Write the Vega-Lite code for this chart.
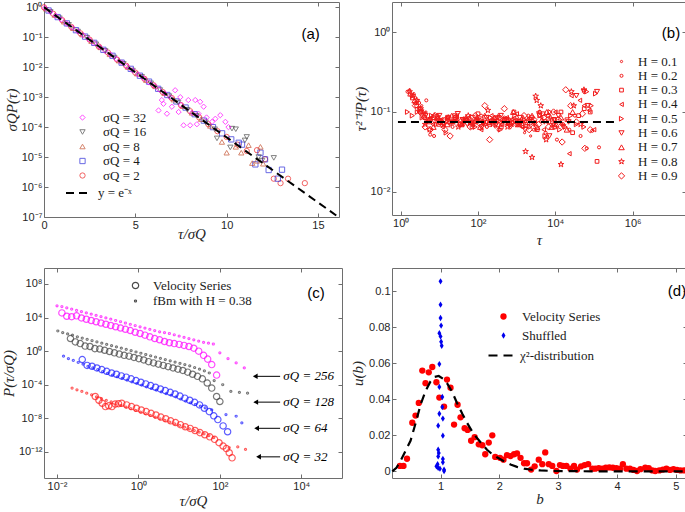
{
"$schema": "https://vega.github.io/schema/vega-lite/v6.json",
"background": "white",
"padding": {"left": 0, "top": 0, "right": 2, "bottom": 2},
"config": {
 "view": {"stroke": "#6e6e6e", "strokeWidth": 1},
 "axis": {"domain": false, "grid": false, "tickColor": "#6e6e6e", "tickSize": -4, "labelPadding": 6, "labelFlush": false, "labelOverlap": false, "labelFont": "Liberation Sans", "labelFontSize": 11, "labelColor": "#262626", "titleFont": "Liberation Serif", "titleFontStyle": "italic", "titleFontWeight": "normal", "titleFontSize": 15, "titleColor": "#262626"},
 "legend": {"orient": "none", "padding": 0, "labelFont": "Liberation Serif", "labelFontSize": 13, "labelColor": "#1a1a1a"}
},
"columns": 2,
"spacing": {"row": 51, "column": 50},
"bounds": "flush",
"resolve": {"scale": {"color": "independent", "shape": "independent", "size": "independent", "fill": "independent", "strokeDash": "independent"}, "legend": {"color": "independent", "shape": "independent", "size": "independent", "fill": "independent", "strokeDash": "independent"}},
"concat": [
 {"width": 295, "height": 215,
  "resolve": {"axis": {"x": "independent", "y": "independent"}},
  "layer": [
   {"data": {"values": [
{"s":"σQ = 2","x":0,"y":1.0},{"s":"σQ = 2","x":0.5,"y":0.61},{"s":"σQ = 2","x":1.0,"y":0.37},{"s":"σQ = 2","x":1.5,"y":0.22},{"s":"σQ = 2","x":2.0,"y":0.135},{"s":"σQ = 2","x":2.5,"y":0.083},{"s":"σQ = 2","x":3.0,"y":0.049},{"s":"σQ = 2","x":3.5,"y":0.031},{"s":"σQ = 2","x":4.0,"y":0.018},{"s":"σQ = 2","x":4.5,"y":0.0112},{"s":"σQ = 2","x":5.0,"y":0.0066},{"s":"σQ = 2","x":5.5,"y":0.0041},{"s":"σQ = 2","x":6.0,"y":0.0025},{"s":"σQ = 2","x":6.5,"y":0.00148},{"s":"σQ = 2","x":7.0,"y":0.00093},{"s":"σQ = 2","x":7.5,"y":0.00054},{"s":"σQ = 2","x":8.0,"y":0.00034},{"s":"σQ = 2","x":8.5,"y":0.00021},{"s":"σQ = 2","x":9.0,"y":0.000125},{"s":"σQ = 2","x":9.5,"y":0.000073},{"s":"σQ = 2","x":10.0,"y":0.000047},{"s":"σQ = 2","x":10.6,"y":0.000026},{"s":"σQ = 2","x":11.1,"y":0.000016},{"s":"σQ = 2","x":11.66,"y":0.000017},{"s":"σQ = 2","x":12.1,"y":0.0000085},{"s":"σQ = 2","x":12.58,"y":0.0000019},{"s":"σQ = 2","x":12.95,"y":0.00000135},{"s":"σQ = 2","x":13.36,"y":0.0000019},{"s":"σQ = 2","x":14.28,"y":0.00000135},
{"s":"σQ = 4","x":0.25,"y":0.78},{"s":"σQ = 4","x":0.75,"y":0.47},{"s":"σQ = 4","x":1.25,"y":0.29},{"s":"σQ = 4","x":1.75,"y":0.172},{"s":"σQ = 4","x":2.25,"y":0.105},{"s":"σQ = 4","x":2.75,"y":0.065},{"s":"σQ = 4","x":3.25,"y":0.038},{"s":"σQ = 4","x":3.75,"y":0.024},{"s":"σQ = 4","x":4.25,"y":0.0142},{"s":"σQ = 4","x":4.75,"y":0.0088},{"s":"σQ = 4","x":5.25,"y":0.0052},{"s":"σQ = 4","x":5.75,"y":0.0033},{"s":"σQ = 4","x":6.25,"y":0.0019},{"s":"σQ = 4","x":6.75,"y":0.00118},{"s":"σQ = 4","x":7.25,"y":0.00072},{"s":"σQ = 4","x":7.75,"y":0.00045},{"s":"σQ = 4","x":8.25,"y":0.00027},{"s":"σQ = 4","x":8.75,"y":0.000165},{"s":"σQ = 4","x":9.25,"y":0.0001},{"s":"σQ = 4","x":9.75,"y":0.000062},{"s":"σQ = 4","x":10.25,"y":0.000039},{"s":"σQ = 4","x":10.66,"y":0.00003},{"s":"σQ = 4","x":10.84,"y":0.000026},{"s":"σQ = 4","x":11.57,"y":0.0000057},{"s":"σQ = 4","x":11.85,"y":0.000014},{"s":"σQ = 4","x":12.1,"y":0.0000084},{"s":"σQ = 4","x":12.3,"y":0.0000037},{"s":"σQ = 4","x":12.8,"y":0.0000019},{"s":"σQ = 4","x":13.03,"y":0.0000038},
{"s":"σQ = 8","x":0.1,"y":0.9},{"s":"σQ = 8","x":0.6,"y":0.55},{"s":"σQ = 8","x":1.1,"y":0.33},{"s":"σQ = 8","x":1.6,"y":0.2},{"s":"σQ = 8","x":2.1,"y":0.123},{"s":"σQ = 8","x":2.6,"y":0.074},{"s":"σQ = 8","x":3.1,"y":0.046},{"s":"σQ = 8","x":3.6,"y":0.027},{"s":"σQ = 8","x":4.1,"y":0.0166},{"s":"σQ = 8","x":4.6,"y":0.0101},{"s":"σQ = 8","x":5.1,"y":0.0061},{"s":"σQ = 8","x":5.6,"y":0.0037},{"s":"σQ = 8","x":6.1,"y":0.0023},{"s":"σQ = 8","x":6.6,"y":0.00135},{"s":"σQ = 8","x":7.1,"y":0.00083},{"s":"σQ = 8","x":7.6,"y":0.0005},{"s":"σQ = 8","x":8.1,"y":0.0003},{"s":"σQ = 8","x":8.6,"y":0.000185},{"s":"σQ = 8","x":9.1,"y":0.00011},{"s":"σQ = 8","x":9.74,"y":0.000032},{"s":"σQ = 8","x":10.0,"y":0.000014},{"s":"σQ = 8","x":10.5,"y":0.000022},{"s":"σQ = 8","x":10.8,"y":0.000014},{"s":"σQ = 8","x":11.2,"y":0.000025},{"s":"σQ = 8","x":11.4,"y":0.0000063},{"s":"σQ = 8","x":11.66,"y":0.0000075},{"s":"σQ = 8","x":11.85,"y":0.000022},{"s":"σQ = 8","x":12.0,"y":0.000006},
{"s":"σQ = 16","x":0.35,"y":0.7},{"s":"σQ = 16","x":0.85,"y":0.43},{"s":"σQ = 16","x":1.35,"y":0.26},{"s":"σQ = 16","x":1.85,"y":0.155},{"s":"σQ = 16","x":2.35,"y":0.096},{"s":"σQ = 16","x":2.85,"y":0.058},{"s":"σQ = 16","x":3.35,"y":0.035},{"s":"σQ = 16","x":3.85,"y":0.021},{"s":"σQ = 16","x":4.35,"y":0.013},{"s":"σQ = 16","x":4.85,"y":0.0077},{"s":"σQ = 16","x":5.35,"y":0.0048},{"s":"σQ = 16","x":5.85,"y":0.0029},{"s":"σQ = 16","x":6.35,"y":0.00172},{"s":"σQ = 16","x":6.85,"y":0.00108},{"s":"σQ = 16","x":7.35,"y":0.00066},{"s":"σQ = 16","x":7.85,"y":0.00038},{"s":"σQ = 16","x":8.35,"y":0.00024},{"s":"σQ = 16","x":8.85,"y":0.000145},{"s":"σQ = 16","x":9.35,"y":0.000085},{"s":"σQ = 16","x":9.47,"y":0.000042},{"s":"σQ = 16","x":10.2,"y":0.000021},{"s":"σQ = 16","x":10.29,"y":0.000089},{"s":"σQ = 16","x":10.5,"y":0.000085},{"s":"σQ = 16","x":11.0,"y":0.000036},{"s":"σQ = 16","x":11.1,"y":0.000047},{"s":"σQ = 16","x":11.75,"y":0.00001},{"s":"σQ = 16","x":11.94,"y":0.0000076},{"s":"σQ = 16","x":12.58,"y":0.0000094},
{"s":"σQ = 32","x":0.05,"y":0.95},{"s":"σQ = 32","x":0.35,"y":0.7},{"s":"σQ = 32","x":0.65,"y":0.52},{"s":"σQ = 32","x":0.95,"y":0.39},{"s":"σQ = 32","x":1.25,"y":0.285},{"s":"σQ = 32","x":1.55,"y":0.21},{"s":"σQ = 32","x":1.85,"y":0.157},{"s":"σQ = 32","x":2.15,"y":0.117},{"s":"σQ = 32","x":2.45,"y":0.086},{"s":"σQ = 32","x":2.75,"y":0.064},{"s":"σQ = 32","x":3.05,"y":0.047},{"s":"σQ = 32","x":3.35,"y":0.035},{"s":"σQ = 32","x":3.65,"y":0.026},{"s":"σQ = 32","x":3.95,"y":0.019},{"s":"σQ = 32","x":4.25,"y":0.0143},{"s":"σQ = 32","x":4.55,"y":0.0106},{"s":"σQ = 32","x":4.85,"y":0.0078},{"s":"σQ = 32","x":5.15,"y":0.0058},{"s":"σQ = 32","x":5.45,"y":0.0043},{"s":"σQ = 32","x":5.75,"y":0.0031},{"s":"σQ = 32","x":6.05,"y":0.0024},{"s":"σQ = 32","x":6.27,"y":0.00036},{"s":"σQ = 32","x":6.3,"y":0.0018},{"s":"σQ = 32","x":6.45,"y":0.0008},{"s":"σQ = 32","x":6.54,"y":0.0006},{"s":"σQ = 32","x":6.6,"y":0.00135},{"s":"σQ = 32","x":6.73,"y":0.00028},{"s":"σQ = 32","x":6.9,"y":0.001},{"s":"σQ = 32","x":7.0,"y":0.00048},{"s":"σQ = 32","x":7.18,"y":0.0017},{"s":"σQ = 32","x":7.37,"y":0.00032},{"s":"σQ = 32","x":7.46,"y":0.001},{"s":"σQ = 32","x":7.5,"y":0.00055},{"s":"σQ = 32","x":7.64,"y":0.000115},{"s":"σQ = 32","x":7.9,"y":0.0008},{"s":"σQ = 32","x":8.0,"y":0.000115},{"s":"σQ = 32","x":8.1,"y":0.0003},{"s":"σQ = 32","x":8.28,"y":0.0008},{"s":"σQ = 32","x":8.37,"y":0.000125},{"s":"σQ = 32","x":8.46,"y":0.00028},{"s":"σQ = 32","x":8.55,"y":0.0007},{"s":"σQ = 32","x":8.74,"y":0.00048},{"s":"σQ = 32","x":8.9,"y":0.00021},{"s":"σQ = 32","x":9.2,"y":0.00015},{"s":"σQ = 32","x":9.38,"y":0.00019},{"s":"σQ = 32","x":9.65,"y":0.00025},{"s":"σQ = 32","x":9.93,"y":0.00015},{"s":"σQ = 32","x":10.1,"y":0.0001}
   ]},
    "mark": {"type": "point", "filled": false, "size": 28, "strokeWidth": 1},
    "encoding": {
     "x": {"field": "x", "type": "quantitative", "scale": {"domain": [0, 16.15], "nice": false, "zero": false}, "axis": {"values": [0, 5, 10, 15], "title": "τ/σQ", "titlePadding": -4}},
     "y": {"field": "y", "type": "quantitative", "scale": {"type": "log", "domain": [1e-7, 1.5], "nice": false}, "axis": {"values": [1e-7, 1e-6, 1e-5, 1e-4, 1e-3, 1e-2, 1e-1, 1], "labelExpr": "'10' + replace(replace(replace(replace(replace(replace(replace(replace(replace(replace(replace('' + round(log(datum.value) / LN10), '-', '⁻'), '0', '⁰'), '1', '¹'), '2', '²'), '3', '³'), '4', '⁴'), '5', '⁵'), '6', '⁶'), '7', '⁷'), '8', '⁸'), '9', '⁹')", "title": "σQP(τ)", "titlePadding": 2}},
     "color": {"field": "s", "type": "nominal", "scale": {"domain": ["σQ = 32", "σQ = 16", "σQ = 8", "σQ = 4", "σQ = 2"], "range": ["#ff00ff", "#4d4d4d", "#c4502e", "#2b2bd9", "#ee2222"]}, "legend": {"title": null, "legendX": 32, "legendY": 109, "labelOffset": 14, "rowPadding": 0.5, "symbolSize": 28, "symbolStrokeWidth": 1}},
     "shape": {"field": "s", "type": "nominal", "scale": {"domain": ["σQ = 32", "σQ = 16", "σQ = 8", "σQ = 4", "σQ = 2"], "range": ["diamond", "triangle-down", "triangle-up", "square", "circle"]}, "legend": {"title": null, "legendX": 32, "legendY": 109, "labelOffset": 14, "rowPadding": 0.5, "symbolSize": 28, "symbolStrokeWidth": 1}}
    }},
   {"data": {"values": [{"f": "y = e⁻ˣ", "x": 0, "y": 1}, {"f": "y = e⁻ˣ", "x": 16, "y": 1.125e-7}]},
    "mark": {"type": "line", "color": "black", "strokeWidth": 2},
    "encoding": {
     "x": {"field": "x", "type": "quantitative", "scale": {"domain": [0, 16.15], "nice": false, "zero": false}, "axis": {"orient": "top", "labels": false, "title": null, "values": [0, 5, 10, 15]}},
     "y": {"field": "y", "type": "quantitative", "scale": {"type": "log", "domain": [1e-7, 1.5], "nice": false}, "axis": {"orient": "right", "labels": false, "title": null, "values": [1e-7, 1e-6, 1e-5, 1e-4, 1e-3, 1e-2, 1e-1, 1]}},
     "strokeDash": {"field": "f", "type": "nominal", "scale": {"range": [[8, 5]]}, "legend": {"title": null, "legendX": 21, "legendY": 178, "labelOffset": 7, "symbolSize": 576, "symbolStrokeWidth": 2, "symbolStrokeColor": "black"}}
    }},
   {"data": {"values": [{"t": "(a)", "x": 14.6, "y": 0.128}]},
    "mark": {"type": "text", "font": "Liberation Sans", "fontSize": 15, "color": "black"},
    "encoding": {
     "x": {"field": "x", "type": "quantitative", "scale": {"domain": [0, 16.15], "nice": false, "zero": false}, "axis": null},
     "y": {"field": "y", "type": "quantitative", "scale": {"type": "log", "domain": [1e-7, 1.5], "nice": false}, "axis": null},
     "text": {"field": "t"}
    }}
  ]},
 {"width": 294, "height": 213,
  "resolve": {"axis": {"x": "independent", "y": "independent"}},
  "layer": [
   {"data": {"values": [
{"h":"H = 0.1","x":1.7,"y":0.19},{"h":"H = 0.1","x":2.2,"y":0.17},{"h":"H = 0.1","x":2.8,"y":0.14},{"h":"H = 0.1","x":3.5,"y":0.12},{"h":"H = 0.1","x":4.5,"y":0.1},{"h":"H = 0.1","x":6,"y":0.085},{"h":"H = 0.1","x":8,"y":0.08},{"h":"H = 0.1","x":11,"y":0.075},{"h":"H = 0.1","x":15,"y":0.085},{"h":"H = 0.1","x":20,"y":0.07},{"h":"H = 0.1","x":28,"y":0.08},{"h":"H = 0.1","x":40,"y":0.072},{"h":"H = 0.1","x":55,"y":0.078},{"h":"H = 0.1","x":75,"y":0.068},{"h":"H = 0.1","x":100,"y":0.08},{"h":"H = 0.1","x":140,"y":0.07},{"h":"H = 0.1","x":200,"y":0.075},{"h":"H = 0.1","x":280,"y":0.065},{"h":"H = 0.1","x":400,"y":0.08},{"h":"H = 0.1","x":560,"y":0.07},{"h":"H = 0.1","x":800,"y":0.068},{"h":"H = 0.1","x":1100,"y":0.075},{"h":"H = 0.1","x":1600,"y":0.055},{"h":"H = 0.1","x":2300,"y":0.05},{"h":"H = 0.1","x":3200,"y":0.06},{"h":"H = 0.1","x":4500,"y":0.085},{"h":"H = 0.1","x":6300,"y":0.05},{"h":"H = 0.1","x":9000,"y":0.07},
{"h":"H = 0.2","x":1.5,"y":0.18},{"h":"H = 0.2","x":1.9,"y":0.16},{"h":"H = 0.2","x":2.4,"y":0.15},{"h":"H = 0.2","x":3,"y":0.13},{"h":"H = 0.2","x":3.7,"y":0.1},{"h":"H = 0.2","x":4.6,"y":0.14},{"h":"H = 0.2","x":5.8,"y":0.052},{"h":"H = 0.2","x":7.3,"y":0.05},{"h":"H = 0.2","x":9,"y":0.09},{"h":"H = 0.2","x":12,"y":0.08},{"h":"H = 0.2","x":16,"y":0.085},{"h":"H = 0.2","x":22,"y":0.065},{"h":"H = 0.2","x":30,"y":0.08},{"h":"H = 0.2","x":42,"y":0.07},{"h":"H = 0.2","x":60,"y":0.085},{"h":"H = 0.2","x":85,"y":0.075},{"h":"H = 0.2","x":120,"y":0.09},{"h":"H = 0.2","x":170,"y":0.065},{"h":"H = 0.2","x":240,"y":0.08},{"h":"H = 0.2","x":340,"y":0.06},{"h":"H = 0.2","x":480,"y":0.085},{"h":"H = 0.2","x":700,"y":0.07},{"h":"H = 0.2","x":1000,"y":0.08},{"h":"H = 0.2","x":1400,"y":0.065},{"h":"H = 0.2","x":2000,"y":0.09},{"h":"H = 0.2","x":2800,"y":0.06},{"h":"H = 0.2","x":4000,"y":0.1},{"h":"H = 0.2","x":5600,"y":0.055},{"h":"H = 0.2","x":8000,"y":0.08},{"h":"H = 0.2","x":11000,"y":0.045},{"h":"H = 0.2","x":16000,"y":0.07},{"h":"H = 0.2","x":23000,"y":0.06},{"h":"H = 0.2","x":32000,"y":0.09},{"h":"H = 0.2","x":45000,"y":0.05},{"h":"H = 0.2","x":65000,"y":0.035},{"h":"H = 0.2","x":90000,"y":0.058},{"h":"H = 0.2","x":135000,"y":0.036},
{"h":"H = 0.3","x":2,"y":0.15},{"h":"H = 0.3","x":2.6,"y":0.12},{"h":"H = 0.3","x":3.3,"y":0.1},{"h":"H = 0.3","x":4.2,"y":0.085},{"h":"H = 0.3","x":5.5,"y":0.075},{"h":"H = 0.3","x":7,"y":0.085},{"h":"H = 0.3","x":9.5,"y":0.07},{"h":"H = 0.3","x":13,"y":0.08},{"h":"H = 0.3","x":18,"y":0.075},{"h":"H = 0.3","x":25,"y":0.09},{"h":"H = 0.3","x":35,"y":0.07},{"h":"H = 0.3","x":50,"y":0.08},{"h":"H = 0.3","x":70,"y":0.065},{"h":"H = 0.3","x":100,"y":0.095},{"h":"H = 0.3","x":140,"y":0.075},{"h":"H = 0.3","x":200,"y":0.07},{"h":"H = 0.3","x":290,"y":0.085},{"h":"H = 0.3","x":400,"y":0.065},{"h":"H = 0.3","x":600,"y":0.08},{"h":"H = 0.3","x":850,"y":0.1},{"h":"H = 0.3","x":1200,"y":0.075},{"h":"H = 0.3","x":1700,"y":0.07},{"h":"H = 0.3","x":2400,"y":0.085},{"h":"H = 0.3","x":3400,"y":0.06},{"h":"H = 0.3","x":4800,"y":0.095},{"h":"H = 0.3","x":6800,"y":0.075},{"h":"H = 0.3","x":9600,"y":0.065},{"h":"H = 0.3","x":14000,"y":0.1},{"h":"H = 0.3","x":20000,"y":0.08},{"h":"H = 0.3","x":28000,"y":0.055},{"h":"H = 0.3","x":40000,"y":0.09},{"h":"H = 0.3","x":56000,"y":0.11},{"h":"H = 0.3","x":80000,"y":0.1},{"h":"H = 0.3","x":120000,"y":0.024},
{"h":"H = 0.4","x":2.3,"y":0.13},{"h":"H = 0.4","x":3,"y":0.11},{"h":"H = 0.4","x":4,"y":0.095},{"h":"H = 0.4","x":5.2,"y":0.08},{"h":"H = 0.4","x":6.8,"y":0.07},{"h":"H = 0.4","x":9,"y":0.085},{"h":"H = 0.4","x":12,"y":0.065},{"h":"H = 0.4","x":16,"y":0.08},{"h":"H = 0.4","x":21,"y":0.075},{"h":"H = 0.4","x":28,"y":0.09},{"h":"H = 0.4","x":38,"y":0.07},{"h":"H = 0.4","x":50,"y":0.08},{"h":"H = 0.4","x":68,"y":0.075},{"h":"H = 0.4","x":90,"y":0.085},{"h":"H = 0.4","x":120,"y":0.06},{"h":"H = 0.4","x":160,"y":0.075},{"h":"H = 0.4","x":220,"y":0.09},{"h":"H = 0.4","x":300,"y":0.08},{"h":"H = 0.4","x":400,"y":0.07},{"h":"H = 0.4","x":550,"y":0.085},{"h":"H = 0.4","x":750,"y":0.075},{"h":"H = 0.4","x":1000,"y":0.095},{"h":"H = 0.4","x":1400,"y":0.065},{"h":"H = 0.4","x":1900,"y":0.08},{"h":"H = 0.4","x":2600,"y":0.07},{"h":"H = 0.4","x":3600,"y":0.1},{"h":"H = 0.4","x":5000,"y":0.06},{"h":"H = 0.4","x":7000,"y":0.085},{"h":"H = 0.4","x":10000,"y":0.1},{"h":"H = 0.4","x":14000,"y":0.07},{"h":"H = 0.4","x":23000,"y":0.03},{"h":"H = 0.4","x":26000,"y":0.16},{"h":"H = 0.4","x":43000,"y":0.14},{"h":"H = 0.4","x":55000,"y":0.12},{"h":"H = 0.4","x":75000,"y":0.105},{"h":"H = 0.4","x":100000,"y":0.06},
{"h":"H = 0.5","x":1.5,"y":0.1},{"h":"H = 0.5","x":2,"y":0.09},{"h":"H = 0.5","x":2.7,"y":0.1},{"h":"H = 0.5","x":3.6,"y":0.085},{"h":"H = 0.5","x":4.8,"y":0.075},{"h":"H = 0.5","x":6.3,"y":0.09},{"h":"H = 0.5","x":8.5,"y":0.07},{"h":"H = 0.5","x":11,"y":0.08},{"h":"H = 0.5","x":15,"y":0.055},{"h":"H = 0.5","x":20,"y":0.075},{"h":"H = 0.5","x":27,"y":0.085},{"h":"H = 0.5","x":36,"y":0.07},{"h":"H = 0.5","x":48,"y":0.08},{"h":"H = 0.5","x":65,"y":0.075},{"h":"H = 0.5","x":85,"y":0.065},{"h":"H = 0.5","x":115,"y":0.08},{"h":"H = 0.5","x":155,"y":0.07},{"h":"H = 0.5","x":210,"y":0.085},{"h":"H = 0.5","x":280,"y":0.075},{"h":"H = 0.5","x":380,"y":0.06},{"h":"H = 0.5","x":500,"y":0.08},{"h":"H = 0.5","x":680,"y":0.075},{"h":"H = 0.5","x":900,"y":0.09},{"h":"H = 0.5","x":1200,"y":0.07},{"h":"H = 0.5","x":1600,"y":0.08},{"h":"H = 0.5","x":2200,"y":0.065},{"h":"H = 0.5","x":3000,"y":0.075},{"h":"H = 0.5","x":4000,"y":0.09},{"h":"H = 0.5","x":5400,"y":0.05},{"h":"H = 0.5","x":7300,"y":0.1},{"h":"H = 0.5","x":10000,"y":0.08},{"h":"H = 0.5","x":13000,"y":0.06},{"h":"H = 0.5","x":18000,"y":0.065},{"h":"H = 0.5","x":25000,"y":0.09},{"h":"H = 0.5","x":35000,"y":0.07},{"h":"H = 0.5","x":55000,"y":0.065},{"h":"H = 0.5","x":65000,"y":0.18},{"h":"H = 0.5","x":85000,"y":0.12},{"h":"H = 0.5","x":110000,"y":0.17},
{"h":"H = 0.6","x":3.4,"y":0.1},{"h":"H = 0.6","x":4.4,"y":0.09},{"h":"H = 0.6","x":5.8,"y":0.08},{"h":"H = 0.6","x":7.5,"y":0.075},{"h":"H = 0.6","x":10,"y":0.09},{"h":"H = 0.6","x":13,"y":0.07},{"h":"H = 0.6","x":17,"y":0.085},{"h":"H = 0.6","x":23,"y":0.075},{"h":"H = 0.6","x":30,"y":0.095},{"h":"H = 0.6","x":40,"y":0.08},{"h":"H = 0.6","x":53,"y":0.07},{"h":"H = 0.6","x":70,"y":0.085},{"h":"H = 0.6","x":93,"y":0.075},{"h":"H = 0.6","x":125,"y":0.065},{"h":"H = 0.6","x":165,"y":0.085},{"h":"H = 0.6","x":220,"y":0.075},{"h":"H = 0.6","x":290,"y":0.07},{"h":"H = 0.6","x":390,"y":0.09},{"h":"H = 0.6","x":520,"y":0.08},{"h":"H = 0.6","x":690,"y":0.065},{"h":"H = 0.6","x":920,"y":0.075},{"h":"H = 0.6","x":1200,"y":0.085},{"h":"H = 0.6","x":1650,"y":0.06},{"h":"H = 0.6","x":2200,"y":0.08},{"h":"H = 0.6","x":2900,"y":0.07},{"h":"H = 0.6","x":3900,"y":0.09},{"h":"H = 0.6","x":5200,"y":0.075},{"h":"H = 0.6","x":7000,"y":0.05},{"h":"H = 0.6","x":9300,"y":0.08},{"h":"H = 0.6","x":12000,"y":0.09},{"h":"H = 0.6","x":16000,"y":0.065},{"h":"H = 0.6","x":22000,"y":0.075},{"h":"H = 0.6","x":35000,"y":0.16},{"h":"H = 0.6","x":55000,"y":0.18},{"h":"H = 0.6","x":70000,"y":0.12},{"h":"H = 0.6","x":120000,"y":0.18},
{"h":"H = 0.7","x":1.8,"y":0.17},{"h":"H = 0.7","x":2.3,"y":0.14},{"h":"H = 0.7","x":3.1,"y":0.11},{"h":"H = 0.7","x":4,"y":0.09},{"h":"H = 0.7","x":5.3,"y":0.08},{"h":"H = 0.7","x":7,"y":0.065},{"h":"H = 0.7","x":9.2,"y":0.085},{"h":"H = 0.7","x":12,"y":0.075},{"h":"H = 0.7","x":16,"y":0.07},{"h":"H = 0.7","x":21,"y":0.09},{"h":"H = 0.7","x":28,"y":0.08},{"h":"H = 0.7","x":37,"y":0.07},{"h":"H = 0.7","x":49,"y":0.085},{"h":"H = 0.7","x":65,"y":0.075},{"h":"H = 0.7","x":86,"y":0.08},{"h":"H = 0.7","x":115,"y":0.065},{"h":"H = 0.7","x":150,"y":0.09},{"h":"H = 0.7","x":200,"y":0.075},{"h":"H = 0.7","x":265,"y":0.085},{"h":"H = 0.7","x":350,"y":0.07},{"h":"H = 0.7","x":470,"y":0.08},{"h":"H = 0.7","x":620,"y":0.075},{"h":"H = 0.7","x":820,"y":0.1},{"h":"H = 0.7","x":1100,"y":0.07},{"h":"H = 0.7","x":1450,"y":0.085},{"h":"H = 0.7","x":1900,"y":0.075},{"h":"H = 0.7","x":2500,"y":0.09},{"h":"H = 0.7","x":3400,"y":0.065},{"h":"H = 0.7","x":4500,"y":0.08},{"h":"H = 0.7","x":6000,"y":0.1},{"h":"H = 0.7","x":8000,"y":0.065},{"h":"H = 0.7","x":10500,"y":0.07},{"h":"H = 0.7","x":14000,"y":0.085},{"h":"H = 0.7","x":20000,"y":0.06},{"h":"H = 0.7","x":28000,"y":0.1},
{"h":"H = 0.8","x":1.7,"y":0.18},{"h":"H = 0.8","x":2.1,"y":0.16},{"h":"H = 0.8","x":2.6,"y":0.14},{"h":"H = 0.8","x":3.3,"y":0.11},{"h":"H = 0.8","x":4.3,"y":0.07},{"h":"H = 0.8","x":5.6,"y":0.06},{"h":"H = 0.8","x":7.4,"y":0.09},{"h":"H = 0.8","x":9.8,"y":0.08},{"h":"H = 0.8","x":13,"y":0.07},{"h":"H = 0.8","x":17,"y":0.085},{"h":"H = 0.8","x":23,"y":0.075},{"h":"H = 0.8","x":31,"y":0.065},{"h":"H = 0.8","x":42,"y":0.08},{"h":"H = 0.8","x":56,"y":0.09},{"h":"H = 0.8","x":75,"y":0.07},{"h":"H = 0.8","x":100,"y":0.08},{"h":"H = 0.8","x":135,"y":0.075},{"h":"H = 0.8","x":180,"y":0.105},{"h":"H = 0.8","x":240,"y":0.07},{"h":"H = 0.8","x":320,"y":0.085},{"h":"H = 0.8","x":430,"y":0.075},{"h":"H = 0.8","x":580,"y":0.065},{"h":"H = 0.8","x":780,"y":0.08},{"h":"H = 0.8","x":1050,"y":0.07},{"h":"H = 0.8","x":1400,"y":0.075},{"h":"H = 0.8","x":1700,"y":0.032},{"h":"H = 0.8","x":2500,"y":0.027},{"h":"H = 0.8","x":3100,"y":0.158},{"h":"H = 0.8","x":3300,"y":0.14},{"h":"H = 0.8","x":4200,"y":0.12},{"h":"H = 0.8","x":5800,"y":0.045},{"h":"H = 0.8","x":6500,"y":0.09},{"h":"H = 0.8","x":9000,"y":0.07},{"h":"H = 0.8","x":14000,"y":0.022},{"h":"H = 0.8","x":26000,"y":0.18},{"h":"H = 0.8","x":30000,"y":0.12},{"h":"H = 0.8","x":45000,"y":0.07},{"h":"H = 0.8","x":55000,"y":0.19},
{"h":"H = 0.9","x":2.4,"y":0.12},{"h":"H = 0.9","x":3.2,"y":0.1},{"h":"H = 0.9","x":4.3,"y":0.065},{"h":"H = 0.9","x":5.8,"y":0.06},{"h":"H = 0.9","x":7.8,"y":0.09},{"h":"H = 0.9","x":10.5,"y":0.075},{"h":"H = 0.9","x":14,"y":0.06},{"h":"H = 0.9","x":19,"y":0.05},{"h":"H = 0.9","x":26,"y":0.085},{"h":"H = 0.9","x":35,"y":0.07},{"h":"H = 0.9","x":47,"y":0.08},{"h":"H = 0.9","x":63,"y":0.065},{"h":"H = 0.9","x":85,"y":0.09},{"h":"H = 0.9","x":115,"y":0.07},{"h":"H = 0.9","x":150,"y":0.12},{"h":"H = 0.9","x":200,"y":0.045},{"h":"H = 0.9","x":270,"y":0.075},{"h":"H = 0.9","x":360,"y":0.085},{"h":"H = 0.9","x":480,"y":0.11},{"h":"H = 0.9","x":650,"y":0.07},{"h":"H = 0.9","x":870,"y":0.08},{"h":"H = 0.9","x":1160,"y":0.075},{"h":"H = 0.9","x":1550,"y":0.09},{"h":"H = 0.9","x":2100,"y":0.06},{"h":"H = 0.9","x":2800,"y":0.08},{"h":"H = 0.9","x":3700,"y":0.07},{"h":"H = 0.9","x":5000,"y":0.085},{"h":"H = 0.9","x":6700,"y":0.065},{"h":"H = 0.9","x":9000,"y":0.1},{"h":"H = 0.9","x":12000,"y":0.08},{"h":"H = 0.9","x":15000,"y":0.042},{"h":"H = 0.9","x":18600,"y":0.19},{"h":"H = 0.9","x":25000,"y":0.12},{"h":"H = 0.9","x":35000,"y":0.075},{"h":"H = 0.9","x":50000,"y":0.095},{"h":"H = 0.9","x":58000,"y":0.035},{"h":"H = 0.9","x":80000,"y":0.06}
   ]},
    "mark": {"type": "point", "filled": false, "color": "#f21b1b", "strokeWidth": 1, "opacity": 1},
    "encoding": {
     "x": {"field": "x", "type": "quantitative", "scale": {"type": "log", "domain": [0.596, 2.4e7], "nice": false}, "axis": {"values": [1, 100, 10000, 1000000], "labelExpr": "'10' + replace(replace(replace(replace(replace(replace(replace(replace(replace(replace(replace('' + round(log(datum.value) / LN10), '-', '⁻'), '0', '⁰'), '1', '¹'), '2', '²'), '3', '³'), '4', '⁴'), '5', '⁵'), '6', '⁶'), '7', '⁷'), '8', '⁸'), '9', '⁹')", "title": "τ", "titlePadding": 4}},
     "y": {"field": "y", "type": "quantitative", "scale": {"type": "log", "domain": [0.0051, 2.4], "nice": false}, "axis": {"values": [0.01, 0.1, 1], "labelExpr": "'10' + replace(replace(replace(replace(replace(replace(replace(replace(replace(replace(replace('' + round(log(datum.value) / LN10), '-', '⁻'), '0', '⁰'), '1', '¹'), '2', '²'), '3', '³'), '4', '⁴'), '5', '⁵'), '6', '⁶'), '7', '⁷'), '8', '⁸'), '9', '⁹')", "title": "τ²⁻ᴴP(τ)", "titlePadding": 2}},
     "shape": {"field": "h", "type": "nominal", "scale": {"domain": ["H = 0.1","H = 0.2","H = 0.3","H = 0.4","H = 0.5","H = 0.6","H = 0.7","H = 0.8","H = 0.9"], "range": ["circle","circle","square","triangle-left","triangle-right","triangle-down","triangle-up","M0,-1L0.2245,-0.309L0.951,-0.309L0.363,0.118L0.588,0.809L0,0.382L-0.588,0.809L-0.363,0.118L-0.951,-0.309L-0.2245,-0.309Z","diamond"]}, "legend": {"title": null, "legendX": 223, "legendY": 53, "labelOffset": 10, "rowPadding": 0.3, "symbolStrokeColor": "#f21b1b", "symbolStrokeWidth": 1}},
     "size": {"field": "h", "type": "nominal", "scale": {"domain": ["H = 0.1","H = 0.2","H = 0.3","H = 0.4","H = 0.5","H = 0.6","H = 0.7","H = 0.8","H = 0.9"], "range": [5, 40, 34, 38, 38, 38, 38, 40, 40]}, "legend": {"title": null, "legendX": 223, "legendY": 53, "labelOffset": 10, "rowPadding": 0.3, "symbolStrokeColor": "#f21b1b", "symbolStrokeWidth": 1}}
    }},
   {"data": {"values": [{"x": 0.85, "y": 0.075}, {"x": 340000, "y": 0.075}]},
    "mark": {"type": "line", "color": "black", "strokeWidth": 2, "strokeDash": [8, 5]},
    "encoding": {
     "x": {"field": "x", "type": "quantitative", "scale": {"type": "log", "domain": [0.596, 2.4e7], "nice": false}, "axis": {"orient": "top", "labels": false, "title": null, "values": [1, 100, 10000, 1000000]}},
     "y": {"field": "y", "type": "quantitative", "scale": {"type": "log", "domain": [0.0051, 2.4], "nice": false}, "axis": {"orient": "right", "labels": false, "title": null, "values": [0.01, 0.1, 1]}}
    }},
   {"data": {"values": [{"t": "(b)", "x": 9800000, "y": 0.97}]},
    "mark": {"type": "text", "font": "Liberation Sans", "fontSize": 15, "color": "black"},
    "encoding": {
     "x": {"field": "x", "type": "quantitative", "scale": {"type": "log", "domain": [0.596, 2.4e7], "nice": false}, "axis": null},
     "y": {"field": "y", "type": "quantitative", "scale": {"type": "log", "domain": [0.0051, 2.4], "nice": false}, "axis": null},
     "text": {"field": "t"}
    }}
  ]},
 {"width": 298, "height": 210,
  "resolve": {"axis": {"x": "independent", "y": "independent"}},
  "layer": [
   {"data": {"values": [
{"g":"256","k":"Velocity Series","x":0.01318,"y":35480},{"g":"256","k":"Velocity Series","x":0.01738,"y":14130},{"g":"256","k":"Velocity Series","x":0.02291,"y":12590},{"g":"256","k":"Velocity Series","x":0.0302,"y":15850},{"g":"256","k":"Velocity Series","x":0.03981,"y":8913},{"g":"256","k":"Velocity Series","x":0.05248,"y":6310},{"g":"256","k":"Velocity Series","x":0.06918,"y":4467},{"g":"256","k":"Velocity Series","x":0.0912,"y":3162},{"g":"256","k":"Velocity Series","x":0.1202,"y":2239},{"g":"256","k":"Velocity Series","x":0.1585,"y":1585},{"g":"256","k":"Velocity Series","x":0.2089,"y":1122},{"g":"256","k":"Velocity Series","x":0.2754,"y":794.3},{"g":"256","k":"Velocity Series","x":0.3631,"y":562.3},{"g":"256","k":"Velocity Series","x":0.4786,"y":398.1},{"g":"256","k":"Velocity Series","x":0.631,"y":281.8},{"g":"256","k":"Velocity Series","x":0.8318,"y":177.8},{"g":"256","k":"Velocity Series","x":1.096,"y":125.9},{"g":"256","k":"Velocity Series","x":1.445,"y":79.43},{"g":"256","k":"Velocity Series","x":1.905,"y":50.12},{"g":"256","k":"Velocity Series","x":2.512,"y":31.62},{"g":"256","k":"Velocity Series","x":3.311,"y":22.39},{"g":"256","k":"Velocity Series","x":4.365,"y":14.13},{"g":"256","k":"Velocity Series","x":5.754,"y":10},{"g":"256","k":"Velocity Series","x":7.586,"y":7.943},{"g":"256","k":"Velocity Series","x":10,"y":6.31},{"g":"256","k":"Velocity Series","x":13.18,"y":4.786},{"g":"256","k":"Velocity Series","x":17.38,"y":3.548},{"g":"256","k":"Velocity Series","x":22.91,"y":2.239},{"g":"256","k":"Velocity Series","x":30.2,"y":1},{"g":"256","k":"Velocity Series","x":39.81,"y":0.3162},{"g":"256","k":"Velocity Series","x":50.12,"y":0.1122},{"g":"256","k":"Velocity Series","x":63.1,"y":0.02512},{"g":"256","k":"Velocity Series","x":83.18,"y":0.001413},
{"g":"256","k":"fBm with H = 0.38","x":0.01,"y":251200},{"g":"256","k":"fBm with H = 0.38","x":0.01318,"y":199500},{"g":"256","k":"fBm with H = 0.38","x":0.01738,"y":141300},{"g":"256","k":"fBm with H = 0.38","x":0.02291,"y":100000},{"g":"256","k":"fBm with H = 0.38","x":0.0302,"y":70790},{"g":"256","k":"fBm with H = 0.38","x":0.03981,"y":50120},{"g":"256","k":"fBm with H = 0.38","x":0.05248,"y":35480},{"g":"256","k":"fBm with H = 0.38","x":0.06918,"y":25120},{"g":"256","k":"fBm with H = 0.38","x":0.0912,"y":17780},{"g":"256","k":"fBm with H = 0.38","x":0.1202,"y":12590},{"g":"256","k":"fBm with H = 0.38","x":0.1585,"y":8913},{"g":"256","k":"fBm with H = 0.38","x":0.2089,"y":6310},{"g":"256","k":"fBm with H = 0.38","x":0.2754,"y":4467},{"g":"256","k":"fBm with H = 0.38","x":0.3631,"y":3162},{"g":"256","k":"fBm with H = 0.38","x":0.4786,"y":2239},{"g":"256","k":"fBm with H = 0.38","x":0.631,"y":1585},{"g":"256","k":"fBm with H = 0.38","x":0.8318,"y":1122},{"g":"256","k":"fBm with H = 0.38","x":1.096,"y":794.3},{"g":"256","k":"fBm with H = 0.38","x":1.445,"y":562.3},{"g":"256","k":"fBm with H = 0.38","x":1.905,"y":398.1},{"g":"256","k":"fBm with H = 0.38","x":2.512,"y":281.8},{"g":"256","k":"fBm with H = 0.38","x":3.311,"y":199.5},{"g":"256","k":"fBm with H = 0.38","x":4.365,"y":158.5},{"g":"256","k":"fBm with H = 0.38","x":5.754,"y":125.9},{"g":"256","k":"fBm with H = 0.38","x":7.586,"y":89.13},{"g":"256","k":"fBm with H = 0.38","x":10,"y":63.1},{"g":"256","k":"fBm with H = 0.38","x":13.18,"y":44.67},{"g":"256","k":"fBm with H = 0.38","x":17.38,"y":31.62},{"g":"256","k":"fBm with H = 0.38","x":22.91,"y":22.39},{"g":"256","k":"fBm with H = 0.38","x":30.2,"y":15.85},{"g":"256","k":"fBm with H = 0.38","x":39.81,"y":11.22},{"g":"256","k":"fBm with H = 0.38","x":52.48,"y":8.913},{"g":"256","k":"fBm with H = 0.38","x":69.18,"y":7.079},{"g":"256","k":"fBm with H = 0.38","x":100,"y":0.631},{"g":"256","k":"fBm with H = 0.38","x":158.5,"y":0.1259},{"g":"256","k":"fBm with H = 0.38","x":251.2,"y":0.03981},{"g":"256","k":"fBm with H = 0.38","x":398.1,"y":0.01},
{"g":"128","k":"Velocity Series","x":0.02138,"y":31.62},{"g":"128","k":"Velocity Series","x":0.02818,"y":12.59},{"g":"128","k":"Velocity Series","x":0.03715,"y":7.943},{"g":"128","k":"Velocity Series","x":0.04898,"y":3.981},{"g":"128","k":"Velocity Series","x":0.06457,"y":3.548},{"g":"128","k":"Velocity Series","x":0.08511,"y":1.995},{"g":"128","k":"Velocity Series","x":0.1122,"y":1.778},{"g":"128","k":"Velocity Series","x":0.1479,"y":1.259},{"g":"128","k":"Velocity Series","x":0.195,"y":0.8913},{"g":"128","k":"Velocity Series","x":0.257,"y":0.631},{"g":"128","k":"Velocity Series","x":0.3388,"y":0.4467},{"g":"128","k":"Velocity Series","x":0.4467,"y":0.3162},{"g":"128","k":"Velocity Series","x":0.5888,"y":0.2512},{"g":"128","k":"Velocity Series","x":0.7762,"y":0.1778},{"g":"128","k":"Velocity Series","x":1.023,"y":0.1259},{"g":"128","k":"Velocity Series","x":1.349,"y":0.08913},{"g":"128","k":"Velocity Series","x":1.778,"y":0.05623},{"g":"128","k":"Velocity Series","x":2.344,"y":0.03981},{"g":"128","k":"Velocity Series","x":3.09,"y":0.02818},{"g":"128","k":"Velocity Series","x":4.074,"y":0.01995},{"g":"128","k":"Velocity Series","x":5.37,"y":0.01413},{"g":"128","k":"Velocity Series","x":7.079,"y":0.01},{"g":"128","k":"Velocity Series","x":9.333,"y":0.007079},{"g":"128","k":"Velocity Series","x":12.3,"y":0.005012},{"g":"128","k":"Velocity Series","x":16.22,"y":0.003162},{"g":"128","k":"Velocity Series","x":21.38,"y":0.001778},{"g":"128","k":"Velocity Series","x":28.18,"y":0.001},{"g":"128","k":"Velocity Series","x":37.15,"y":0.0005012},{"g":"128","k":"Velocity Series","x":48.98,"y":0.0001585},{"g":"128","k":"Velocity Series","x":63.1,"y":0.00003981},{"g":"128","k":"Velocity Series","x":83.18,"y":0.000003981},{"g":"128","k":"Velocity Series","x":100,"y":0.000001},
{"g":"128","k":"fBm with H = 0.38","x":0.01047,"y":251.2},{"g":"128","k":"fBm with H = 0.38","x":0.0138,"y":158.5},{"g":"128","k":"fBm with H = 0.38","x":0.0182,"y":112.2},{"g":"128","k":"fBm with H = 0.38","x":0.02399,"y":79.43},{"g":"128","k":"fBm with H = 0.38","x":0.03162,"y":50.12},{"g":"128","k":"fBm with H = 0.38","x":0.04169,"y":35.48},{"g":"128","k":"fBm with H = 0.38","x":0.05495,"y":25.12},{"g":"128","k":"fBm with H = 0.38","x":0.07244,"y":17.78},{"g":"128","k":"fBm with H = 0.38","x":0.0955,"y":12.59},{"g":"128","k":"fBm with H = 0.38","x":0.1259,"y":8.913},{"g":"128","k":"fBm with H = 0.38","x":0.166,"y":6.31},{"g":"128","k":"fBm with H = 0.38","x":0.2188,"y":4.467},{"g":"128","k":"fBm with H = 0.38","x":0.2884,"y":3.162},{"g":"128","k":"fBm with H = 0.38","x":0.3802,"y":2.239},{"g":"128","k":"fBm with H = 0.38","x":0.5012,"y":1.585},{"g":"128","k":"fBm with H = 0.38","x":0.6607,"y":1.122},{"g":"128","k":"fBm with H = 0.38","x":0.871,"y":0.7943},{"g":"128","k":"fBm with H = 0.38","x":1.148,"y":0.5623},{"g":"128","k":"fBm with H = 0.38","x":1.514,"y":0.3981},{"g":"128","k":"fBm with H = 0.38","x":1.995,"y":0.2818},{"g":"128","k":"fBm with H = 0.38","x":2.63,"y":0.1995},{"g":"128","k":"fBm with H = 0.38","x":3.467,"y":0.1413},{"g":"128","k":"fBm with H = 0.38","x":4.571,"y":0.1},{"g":"128","k":"fBm with H = 0.38","x":6.026,"y":0.07079},{"g":"128","k":"fBm with H = 0.38","x":7.943,"y":0.05012},{"g":"128","k":"fBm with H = 0.38","x":10.47,"y":0.03548},{"g":"128","k":"fBm with H = 0.38","x":13.8,"y":0.02512},{"g":"128","k":"fBm with H = 0.38","x":18.2,"y":0.01778},{"g":"128","k":"fBm with H = 0.38","x":23.99,"y":0.01122},{"g":"128","k":"fBm with H = 0.38","x":31.62,"y":0.007079},{"g":"128","k":"fBm with H = 0.38","x":41.69,"y":0.004467},{"g":"128","k":"fBm with H = 0.38","x":54.95,"y":0.002512},{"g":"128","k":"fBm with H = 0.38","x":72.44,"y":0.0003162},{"g":"128","k":"fBm with H = 0.38","x":117.5,"y":0.0001},{"g":"128","k":"fBm with H = 0.38","x":186.2,"y":0.00001585},{"g":"128","k":"fBm with H = 0.38","x":302,"y":0.00001259},{"g":"128","k":"fBm with H = 0.38","x":478.6,"y":0.00001},
{"g":"64","k":"Velocity Series","x":0.04169,"y":0.1},{"g":"64","k":"Velocity Series","x":0.05495,"y":0.01995},{"g":"64","k":"Velocity Series","x":0.07244,"y":0.01585},{"g":"64","k":"Velocity Series","x":0.0955,"y":0.01},{"g":"64","k":"Velocity Series","x":0.1259,"y":0.00631},{"g":"64","k":"Velocity Series","x":0.166,"y":0.003981},{"g":"64","k":"Velocity Series","x":0.2188,"y":0.002512},{"g":"64","k":"Velocity Series","x":0.2884,"y":0.001778},{"g":"64","k":"Velocity Series","x":0.3802,"y":0.001122},{"g":"64","k":"Velocity Series","x":0.5012,"y":0.0007943},{"g":"64","k":"Velocity Series","x":0.6607,"y":0.0005012},{"g":"64","k":"Velocity Series","x":0.871,"y":0.0003162},{"g":"64","k":"Velocity Series","x":1.148,"y":0.0001995},{"g":"64","k":"Velocity Series","x":1.514,"y":0.0001259},{"g":"64","k":"Velocity Series","x":1.995,"y":0.00007943},{"g":"64","k":"Velocity Series","x":2.63,"y":0.00005012},{"g":"64","k":"Velocity Series","x":3.467,"y":0.00003162},{"g":"64","k":"Velocity Series","x":4.571,"y":0.00001995},{"g":"64","k":"Velocity Series","x":6.026,"y":0.00001259},{"g":"64","k":"Velocity Series","x":7.943,"y":0.000007943},{"g":"64","k":"Velocity Series","x":10.47,"y":0.000004467},{"g":"64","k":"Velocity Series","x":13.8,"y":0.000002512},{"g":"64","k":"Velocity Series","x":18.2,"y":0.000001413},{"g":"64","k":"Velocity Series","x":23.99,"y":7.943e-7},{"g":"64","k":"Velocity Series","x":31.62,"y":3.981e-7},{"g":"64","k":"Velocity Series","x":41.69,"y":1.585e-7},{"g":"64","k":"Velocity Series","x":54.95,"y":6.31e-8},{"g":"64","k":"Velocity Series","x":70.79,"y":1.995e-8},{"g":"64","k":"Velocity Series","x":89.13,"y":7.079e-9},{"g":"64","k":"Velocity Series","x":120.2,"y":1.259e-9},{"g":"64","k":"Velocity Series","x":154.9,"y":2.512e-10},
{"g":"64","k":"fBm with H = 0.38","x":0.01445,"y":0.2512},{"g":"64","k":"fBm with H = 0.38","x":0.01905,"y":0.1259},{"g":"64","k":"fBm with H = 0.38","x":0.02512,"y":0.07943},{"g":"64","k":"fBm with H = 0.38","x":0.03311,"y":0.04467},{"g":"64","k":"fBm with H = 0.38","x":0.04365,"y":0.02818},{"g":"64","k":"fBm with H = 0.38","x":0.05754,"y":0.01585},{"g":"64","k":"fBm with H = 0.38","x":0.07586,"y":0.01},{"g":"64","k":"fBm with H = 0.38","x":0.1,"y":0.00631},{"g":"64","k":"fBm with H = 0.38","x":0.1318,"y":0.003548},{"g":"64","k":"fBm with H = 0.38","x":0.1738,"y":0.002239},{"g":"64","k":"fBm with H = 0.38","x":0.2291,"y":0.001413},{"g":"64","k":"fBm with H = 0.38","x":0.302,"y":0.0008913},{"g":"64","k":"fBm with H = 0.38","x":0.3981,"y":0.0005623},{"g":"64","k":"fBm with H = 0.38","x":0.5248,"y":0.0003548},{"g":"64","k":"fBm with H = 0.38","x":0.6918,"y":0.0002239},{"g":"64","k":"fBm with H = 0.38","x":0.912,"y":0.0001413},{"g":"64","k":"fBm with H = 0.38","x":1.202,"y":0.00008913},{"g":"64","k":"fBm with H = 0.38","x":1.585,"y":0.00005623},{"g":"64","k":"fBm with H = 0.38","x":2.089,"y":0.00003548},{"g":"64","k":"fBm with H = 0.38","x":2.754,"y":0.00002239},{"g":"64","k":"fBm with H = 0.38","x":3.631,"y":0.00001413},{"g":"64","k":"fBm with H = 0.38","x":4.786,"y":0.000008913},{"g":"64","k":"fBm with H = 0.38","x":6.31,"y":0.000005623},{"g":"64","k":"fBm with H = 0.38","x":8.318,"y":0.000003548},{"g":"64","k":"fBm with H = 0.38","x":10.96,"y":0.000001995},{"g":"64","k":"fBm with H = 0.38","x":14.45,"y":0.000001122},{"g":"64","k":"fBm with H = 0.38","x":19.05,"y":7.079e-7},{"g":"64","k":"fBm with H = 0.38","x":25.12,"y":4.467e-7},{"g":"64","k":"fBm with H = 0.38","x":33.11,"y":2.818e-7},{"g":"64","k":"fBm with H = 0.38","x":43.65,"y":1.778e-7},{"g":"64","k":"fBm with H = 0.38","x":63.1,"y":1e-7},{"g":"64","k":"fBm with H = 0.38","x":141.3,"y":2.818e-8},{"g":"64","k":"fBm with H = 0.38","x":251.2,"y":1.778e-8},{"g":"64","k":"fBm with H = 0.38","x":346.7,"y":2.818e-9},
{"g":"32","k":"Velocity Series","x":0.0871,"y":3.981e-6},{"g":"32","k":"Velocity Series","x":0.1072,"y":1.413e-6},{"g":"32","k":"Velocity Series","x":0.1288,"y":6.31e-7},{"g":"32","k":"Velocity Series","x":0.1549,"y":2.512e-7},{"g":"32","k":"Velocity Series","x":0.1862,"y":3.162e-7},{"g":"32","k":"Velocity Series","x":0.2239,"y":2.512e-7},{"g":"32","k":"Velocity Series","x":0.2692,"y":5.012e-7},{"g":"32","k":"Velocity Series","x":0.3236,"y":5.623e-7},{"g":"32","k":"Velocity Series","x":0.389,"y":6.31e-7},{"g":"32","k":"Velocity Series","x":0.5129,"y":3.981e-7},{"g":"32","k":"Velocity Series","x":0.6761,"y":2.512e-7},{"g":"32","k":"Velocity Series","x":0.8913,"y":1.585e-7},{"g":"32","k":"Velocity Series","x":1.175,"y":1e-7},{"g":"32","k":"Velocity Series","x":1.549,"y":6.31e-8},{"g":"32","k":"Velocity Series","x":2.042,"y":3.981e-8},{"g":"32","k":"Velocity Series","x":2.692,"y":2.512e-8},{"g":"32","k":"Velocity Series","x":3.548,"y":1.413e-8},{"g":"32","k":"Velocity Series","x":4.677,"y":8.913e-9},{"g":"32","k":"Velocity Series","x":6.166,"y":5.012e-9},{"g":"32","k":"Velocity Series","x":8.128,"y":3.162e-9},{"g":"32","k":"Velocity Series","x":10.72,"y":1.778e-9},{"g":"32","k":"Velocity Series","x":14.13,"y":1e-9},{"g":"32","k":"Velocity Series","x":18.62,"y":6.31e-10},{"g":"32","k":"Velocity Series","x":24.55,"y":3.548e-10},{"g":"32","k":"Velocity Series","x":32.36,"y":1.995e-10},{"g":"32","k":"Velocity Series","x":42.66,"y":1.122e-10},{"g":"32","k":"Velocity Series","x":56.23,"y":6.31e-11},{"g":"32","k":"Velocity Series","x":74.13,"y":3.162e-11},{"g":"32","k":"Velocity Series","x":95.5,"y":1.259e-11},{"g":"32","k":"Velocity Series","x":120.2,"y":5.012e-12},{"g":"32","k":"Velocity Series","x":144.5,"y":2.512e-12},{"g":"32","k":"Velocity Series","x":169.8,"y":7.943e-13},{"g":"32","k":"Velocity Series","x":199.5,"y":1.995e-13},
{"g":"32","k":"fBm with H = 0.38","x":0.02344,"y":3.981e-5},{"g":"32","k":"fBm with H = 0.38","x":0.0309,"y":2.512e-5},{"g":"32","k":"fBm with H = 0.38","x":0.04074,"y":1.585e-5},{"g":"32","k":"fBm with H = 0.38","x":0.0537,"y":1e-5},{"g":"32","k":"fBm with H = 0.38","x":0.07079,"y":6.31e-6},{"g":"32","k":"fBm with H = 0.38","x":0.09333,"y":3.548e-6},{"g":"32","k":"fBm with H = 0.38","x":0.123,"y":2.239e-6},{"g":"32","k":"fBm with H = 0.38","x":0.1622,"y":1.413e-6},{"g":"32","k":"fBm with H = 0.38","x":0.2138,"y":8.913e-7},{"g":"32","k":"fBm with H = 0.38","x":0.2818,"y":5.623e-7},{"g":"32","k":"fBm with H = 0.38","x":0.3715,"y":3.548e-7},{"g":"32","k":"fBm with H = 0.38","x":0.4898,"y":2.239e-7},{"g":"32","k":"fBm with H = 0.38","x":0.6457,"y":1.413e-7},{"g":"32","k":"fBm with H = 0.38","x":0.8511,"y":8.913e-8},{"g":"32","k":"fBm with H = 0.38","x":1.122,"y":5.623e-8},{"g":"32","k":"fBm with H = 0.38","x":1.479,"y":3.548e-8},{"g":"32","k":"fBm with H = 0.38","x":1.95,"y":2.239e-8},{"g":"32","k":"fBm with H = 0.38","x":2.57,"y":1.413e-8},{"g":"32","k":"fBm with H = 0.38","x":3.388,"y":8.913e-9},{"g":"32","k":"fBm with H = 0.38","x":4.467,"y":5.623e-9},{"g":"32","k":"fBm with H = 0.38","x":5.888,"y":3.548e-9},{"g":"32","k":"fBm with H = 0.38","x":7.762,"y":2.239e-9},{"g":"32","k":"fBm with H = 0.38","x":10.23,"y":1.413e-9},{"g":"32","k":"fBm with H = 0.38","x":13.49,"y":8.913e-10},{"g":"32","k":"fBm with H = 0.38","x":17.78,"y":5.623e-10},{"g":"32","k":"fBm with H = 0.38","x":23.44,"y":3.548e-10},{"g":"32","k":"fBm with H = 0.38","x":30.9,"y":2.239e-10},{"g":"32","k":"fBm with H = 0.38","x":40.74,"y":1.413e-10},{"g":"32","k":"fBm with H = 0.38","x":53.7,"y":8.913e-11},{"g":"32","k":"fBm with H = 0.38","x":70.79,"y":5.012e-11},{"g":"32","k":"fBm with H = 0.38","x":169.8,"y":3.162e-12},{"g":"32","k":"fBm with H = 0.38","x":275.4,"y":3.981e-12},{"g":"32","k":"fBm with H = 0.38","x":426.6,"y":1.995e-12}
   ]},
    "mark": {"type": "point", "filled": false, "strokeWidth": 1.2},
    "encoding": {
     "x": {"field": "x", "type": "quantitative", "scale": {"type": "log", "domain": [0.00479, 100000], "nice": false}, "axis": {"values": [0.01, 1, 100, 10000], "labelExpr": "'10' + replace(replace(replace(replace(replace(replace(replace(replace(replace(replace(replace('' + round(log(datum.value) / LN10), '-', '⁻'), '0', '⁰'), '1', '¹'), '2', '²'), '3', '³'), '4', '⁴'), '5', '⁵'), '6', '⁶'), '7', '⁷'), '8', '⁸'), '9', '⁹')", "title": "τ/σQ", "titlePadding": 2}},
     "y": {"field": "y", "type": "quantitative", "scale": {"type": "log", "domain": [7.9e-16, 7.9e9], "nice": false}, "axis": {"values": [1e-12, 1e-8, 1e-4, 1, 10000, 100000000], "labelExpr": "'10' + replace(replace(replace(replace(replace(replace(replace(replace(replace(replace(replace('' + round(log(datum.value) / LN10), '-', '⁻'), '0', '⁰'), '1', '¹'), '2', '²'), '3', '³'), '4', '⁴'), '5', '⁵'), '6', '⁶'), '7', '⁷'), '8', '⁸'), '9', '⁹')", "title": "P(τ/σQ)", "titlePadding": 2}},
     "color": {"field": "g", "type": "nominal", "scale": {"domain": ["256", "128", "64", "32"], "range": ["#ff00ff", "#404040", "#1a1aff", "#ff1a1a"]}, "legend": null},
     "size": {"field": "k", "type": "nominal", "scale": {"domain": ["Velocity Series", "fBm with H = 0.38"], "range": [40, 4]}, "legend": {"title": null, "legendX": 85, "legendY": 11, "labelOffset": 11, "rowPadding": 1.5, "symbolStrokeColor": "black", "symbolStrokeWidth": 1.2, "symbolType": "circle"}}
    }},
   {"data": {"values": [{"t": "σQ = 256", "x1": 741, "x2": 3020, "y": 0.001}, {"t": "σQ = 128", "x1": 760, "x2": 3020, "y": 8.5e-7}, {"t": "σQ = 64", "x1": 800, "x2": 3020, "y": 6.5e-10}, {"t": "σQ = 32", "x1": 891, "x2": 3020, "y": 2.6e-13}]},
    "mark": {"type": "rule", "color": "black", "strokeWidth": 1},
    "encoding": {
     "x": {"field": "x1", "type": "quantitative", "scale": {"type": "log", "domain": [0.00479, 100000], "nice": false}, "axis": {"orient": "top", "labels": false, "title": null, "values": [0.01, 1, 100, 10000]}},
     "x2": {"field": "x2"},
     "y": {"field": "y", "type": "quantitative", "scale": {"type": "log", "domain": [7.9e-16, 7.9e9], "nice": false}, "axis": {"orient": "right", "labels": false, "title": null, "values": [1e-12, 1e-8, 1e-4, 1, 10000, 100000000]}}
    }},
   {"data": {"values": [{"x1": 741, "y": 0.001}, {"x1": 760, "y": 8.5e-7}, {"x1": 800, "y": 6.5e-10}, {"x1": 891, "y": 2.6e-13}]},
    "mark": {"type": "point", "shape": "triangle-left", "filled": true, "color": "black", "size": 30, "opacity": 1},
    "encoding": {
     "x": {"field": "x1", "type": "quantitative", "scale": {"type": "log", "domain": [0.00479, 100000], "nice": false}, "axis": null},
     "y": {"field": "y", "type": "quantitative", "scale": {"type": "log", "domain": [7.9e-16, 7.9e9], "nice": false}, "axis": null}
    }},
   {"data": {"values": [{"t": "σQ = 256", "xt": 3630, "y": 0.001}, {"t": "σQ = 128", "xt": 3630, "y": 8.5e-7}, {"t": "σQ = 64", "xt": 3630, "y": 6.5e-10}, {"t": "σQ = 32", "xt": 3630, "y": 2.6e-13}]},
    "mark": {"type": "text", "align": "left", "baseline": "middle", "font": "Liberation Serif", "fontStyle": "italic", "fontSize": 13, "color": "black"},
    "encoding": {
     "x": {"field": "xt", "type": "quantitative", "scale": {"type": "log", "domain": [0.00479, 100000], "nice": false}, "axis": null},
     "y": {"field": "y", "type": "quantitative", "scale": {"type": "log", "domain": [7.9e-16, 7.9e9], "nice": false}, "axis": null},
     "text": {"field": "t"}
    }},
   {"data": {"values": [{"t": "(c)", "x": 23000, "y": 8.5e6}]},
    "mark": {"type": "text", "font": "Liberation Sans", "fontSize": 15, "color": "black"},
    "encoding": {
     "x": {"field": "x", "type": "quantitative", "scale": {"type": "log", "domain": [0.00479, 100000], "nice": false}, "axis": null},
     "y": {"field": "y", "type": "quantitative", "scale": {"type": "log", "domain": [7.9e-16, 7.9e9], "nice": false}, "axis": null},
     "text": {"field": "t"}
    }}
  ]},
 {"width": 295, "height": 210,
  "resolve": {"axis": {"x": "independent", "y": "independent"}},
  "layer": [
   {"data": {"values": [
{"s":"Velocity Series","x":0.31,"y":0.003},{"s":"Velocity Series","x":0.37,"y":0.003},{"s":"Velocity Series","x":0.43,"y":0.007},{"s":"Velocity Series","x":0.52,"y":0.027},{"s":"Velocity Series","x":0.575,"y":0.031},{"s":"Velocity Series","x":0.63,"y":0.038},{"s":"Velocity Series","x":0.69,"y":0.056},{"s":"Velocity Series","x":0.745,"y":0.049},{"s":"Velocity Series","x":0.8,"y":0.055},{"s":"Velocity Series","x":0.86,"y":0.058},{"s":"Velocity Series","x":0.93,"y":0.0495},{"s":"Velocity Series","x":0.98,"y":0.041},{"s":"Velocity Series","x":1.06,"y":0.036},{"s":"Velocity Series","x":1.11,"y":0.051},{"s":"Velocity Series","x":1.17,"y":0.0465},{"s":"Velocity Series","x":1.23,"y":0.026},{"s":"Velocity Series","x":1.29,"y":0.037},{"s":"Velocity Series","x":1.34,"y":0.03},{"s":"Velocity Series","x":1.41,"y":0.024},{"s":"Velocity Series","x":1.46,"y":0.023},{"s":"Velocity Series","x":1.52,"y":0.017},{"s":"Velocity Series","x":1.58,"y":0.019},{"s":"Velocity Series","x":1.65,"y":0.015},{"s":"Velocity Series","x":1.71,"y":0.0145},{"s":"Velocity Series","x":1.76,"y":0.0095},{"s":"Velocity Series","x":1.82,"y":0.016},{"s":"Velocity Series","x":1.88,"y":0.02},{"s":"Velocity Series","x":1.93,"y":0.008},{"s":"Velocity Series","x":2.01,"y":0.0075},{"s":"Velocity Series","x":2.07,"y":0.0065},{"s":"Velocity Series","x":2.13,"y":0.009},{"s":"Velocity Series","x":2.19,"y":0.0085},{"s":"Velocity Series","x":2.25,"y":0.0095},{"s":"Velocity Series","x":2.3,"y":0.01},{"s":"Velocity Series","x":2.36,"y":0.0075},{"s":"Velocity Series","x":2.42,"y":0.0045},{"s":"Velocity Series","x":2.47,"y":0.0045},{"s":"Velocity Series","x":2.54,"y":0.001},{"s":"Velocity Series","x":2.6,"y":0.0028},{"s":"Velocity Series","x":2.67,"y":0.0065},{"s":"Velocity Series","x":2.73,"y":0.004},{"s":"Velocity Series","x":2.78,"y":0.0105},{"s":"Velocity Series","x":2.84,"y":0.004},{"s":"Velocity Series","x":2.9,"y":0.003},{"s":"Velocity Series","x":2.97,"y":0.0002},{"s":"Velocity Series","x":3.03,"y":0.0035},{"s":"Velocity Series","x":3.08,"y":0.003},{"s":"Velocity Series","x":3.14,"y":0.003},{"s":"Velocity Series","x":3.21,"y":0.0015},{"s":"Velocity Series","x":3.27,"y":0.003},{"s":"Velocity Series","x":3.32,"y":0.001},{"s":"Velocity Series","x":3.39,"y":0.0028},{"s":"Velocity Series","x":3.45,"y":0.0035},{"s":"Velocity Series","x":3.51,"y":0.004},{"s":"Velocity Series","x":3.58,"y":0.0015},{"s":"Velocity Series","x":3.63,"y":0.0015},{"s":"Velocity Series","x":3.69,"y":0.0018},{"s":"Velocity Series","x":3.75,"y":0.0015},{"s":"Velocity Series","x":3.81,"y":0.002},{"s":"Velocity Series","x":3.87,"y":0.0022},{"s":"Velocity Series","x":3.93,"y":0.002},{"s":"Velocity Series","x":3.99,"y":0.0018},{"s":"Velocity Series","x":4.05,"y":0.0015},{"s":"Velocity Series","x":4.1,"y":0.004},{"s":"Velocity Series","x":4.16,"y":0.0015},{"s":"Velocity Series","x":4.22,"y":0.0015},{"s":"Velocity Series","x":4.28,"y":0.0008},{"s":"Velocity Series","x":4.34,"y":0.0002},{"s":"Velocity Series","x":4.4,"y":0.0012},{"s":"Velocity Series","x":4.48,"y":0.002},{"s":"Velocity Series","x":4.54,"y":0.0018},{"s":"Velocity Series","x":4.6,"y":0.0005},{"s":"Velocity Series","x":4.65,"y":0.0002},{"s":"Velocity Series","x":4.72,"y":0.0005},{"s":"Velocity Series","x":4.78,"y":0.001},{"s":"Velocity Series","x":4.84,"y":0.0015},{"s":"Velocity Series","x":4.9,"y":0.0008},{"s":"Velocity Series","x":4.96,"y":0.0012},{"s":"Velocity Series","x":5.02,"y":0.0008},{"s":"Velocity Series","x":5.08,"y":0.0005},{"s":"Velocity Series","x":5.14,"y":0.0005},
{"s":"Shuffled","x":1.0,"y":0.1056},{"s":"Shuffled","x":1.0,"y":0.0926},{"s":"Shuffled","x":1.0,"y":0.0852},{"s":"Shuffled","x":1.01,"y":0.081},{"s":"Shuffled","x":0.98,"y":0.0768},{"s":"Shuffled","x":1.0,"y":0.075},{"s":"Shuffled","x":1.01,"y":0.072},{"s":"Shuffled","x":1.02,"y":0.0698},{"s":"Shuffled","x":0.98,"y":0.0596},{"s":"Shuffled","x":0.98,"y":0.0469},{"s":"Shuffled","x":1.03,"y":0.0413},{"s":"Shuffled","x":1.03,"y":0.0357},{"s":"Shuffled","x":0.98,"y":0.032},{"s":"Shuffled","x":1.04,"y":0.0293},{"s":"Shuffled","x":0.96,"y":0.0254},{"s":"Shuffled","x":1.04,"y":0.0198},{"s":"Shuffled","x":0.96,"y":0.012},{"s":"Shuffled","x":0.97,"y":0.0102},{"s":"Shuffled","x":0.96,"y":0.0083},{"s":"Shuffled","x":1.04,"y":0.0069},{"s":"Shuffled","x":1.04,"y":0.005},{"s":"Shuffled","x":0.93,"y":0.0028},{"s":"Shuffled","x":0.96,"y":0.0019},{"s":"Shuffled","x":1.06,"y":0.0009},{"s":"Shuffled","x":1.06,"y":0.0002},{"s":"Shuffled","x":0.99,"y":0.0015},{"s":"Shuffled","x":0.95,"y":0.004}
   ]},
    "mark": {"type": "point", "filled": true, "size": 40, "opacity": 1},
    "encoding": {
     "x": {"field": "x", "type": "quantitative", "scale": {"domain": [0.175, 5.19], "nice": false, "zero": false}, "axis": {"values": [1, 2, 3, 4, 5], "title": "b", "titlePadding": 0}},
     "y": {"field": "y", "type": "quantitative", "scale": {"domain": [-0.0037, 0.113], "nice": false, "zero": false}, "axis": {"values": [0, 0.02, 0.04, 0.06, 0.08, 0.1], "format": "~g", "title": "u(b)", "titlePadding": 3}},
     "color": {"field": "s", "type": "nominal", "scale": {"domain": ["Velocity Series", "Shuffled"], "range": ["#ff0000", "#0000ee"]}, "legend": {"title": null, "legendX": 105, "legendY": 42, "labelOffset": 12, "rowPadding": 5, "symbolSize": 40}},
     "shape": {"field": "s", "type": "nominal", "scale": {"domain": ["Velocity Series", "Shuffled"], "range": ["circle", "M0,-1L0.62,0L0,1L-0.62,0Z"]}, "legend": {"title": null, "legendX": 105, "legendY": 42, "labelOffset": 12, "rowPadding": 5, "symbolSize": 40}}
    }},
   {"data": {"values": [
{"c":"χ²-distribution","x":0.18,"y":0},{"c":"χ²-distribution","x":0.25,"y":0.002},{"c":"χ²-distribution","x":0.32,"y":0.0058},{"c":"χ²-distribution","x":0.4,"y":0.011},{"c":"χ²-distribution","x":0.49,"y":0.017},{"c":"χ²-distribution","x":0.57,"y":0.026},{"c":"χ²-distribution","x":0.66,"y":0.037},{"c":"χ²-distribution","x":0.75,"y":0.045},{"c":"χ²-distribution","x":0.83,"y":0.05},{"c":"χ²-distribution","x":0.9,"y":0.0525},{"c":"χ²-distribution","x":0.97,"y":0.053},{"c":"χ²-distribution","x":1.04,"y":0.0515},{"c":"χ²-distribution","x":1.11,"y":0.049},{"c":"χ²-distribution","x":1.2,"y":0.044},{"c":"χ²-distribution","x":1.28,"y":0.038},{"c":"χ²-distribution","x":1.37,"y":0.032},{"c":"χ²-distribution","x":1.45,"y":0.027},{"c":"χ²-distribution","x":1.54,"y":0.022},{"c":"χ²-distribution","x":1.62,"y":0.0185},{"c":"χ²-distribution","x":1.71,"y":0.015},{"c":"χ²-distribution","x":1.79,"y":0.012},{"c":"χ²-distribution","x":1.88,"y":0.0095},{"c":"χ²-distribution","x":1.96,"y":0.0078},{"c":"χ²-distribution","x":2.07,"y":0.0058},{"c":"χ²-distribution","x":2.19,"y":0.0038},{"c":"χ²-distribution","x":2.3,"y":0.0025},{"c":"χ²-distribution","x":2.42,"y":0.0015},{"c":"χ²-distribution","x":2.55,"y":0.0009},{"c":"χ²-distribution","x":2.7,"y":0.0005},{"c":"χ²-distribution","x":2.9,"y":0.0002},{"c":"χ²-distribution","x":3.2,"y":0.0001},{"c":"χ²-distribution","x":3.6,"y":0},{"c":"χ²-distribution","x":4.2,"y":0},{"c":"χ²-distribution","x":5.19,"y":0}
   ]},
    "mark": {"type": "line", "color": "black", "strokeWidth": 2.2},
    "encoding": {
     "x": {"field": "x", "type": "quantitative", "scale": {"domain": [0.175, 5.19], "nice": false, "zero": false}, "axis": {"orient": "top", "labels": false, "title": null, "values": [1, 2, 3, 4, 5]}},
     "y": {"field": "y", "type": "quantitative", "scale": {"domain": [-0.0037, 0.113], "nice": false, "zero": false}, "axis": {"orient": "right", "labels": false, "title": null, "values": [0, 0.02, 0.04, 0.06, 0.08, 0.1]}},
     "strokeDash": {"field": "c", "type": "nominal", "scale": {"range": [[9, 6]]}, "legend": {"title": null, "legendX": 95, "legendY": 71, "labelOffset": 0, "symbolSize": 900, "symbolStrokeWidth": 2.2, "symbolStrokeColor": "black"}}
    }},
   {"data": {"values": [{"t": "(d)", "x": 5.02, "y": 0.1}]},
    "mark": {"type": "text", "font": "Liberation Sans", "fontSize": 15, "color": "black"},
    "encoding": {
     "x": {"field": "x", "type": "quantitative", "scale": {"domain": [0.175, 5.19], "nice": false, "zero": false}, "axis": null},
     "y": {"field": "y", "type": "quantitative", "scale": {"domain": [-0.0037, 0.113], "nice": false, "zero": false}, "axis": null},
     "text": {"field": "t"}
    }}
  ]}
]
}
